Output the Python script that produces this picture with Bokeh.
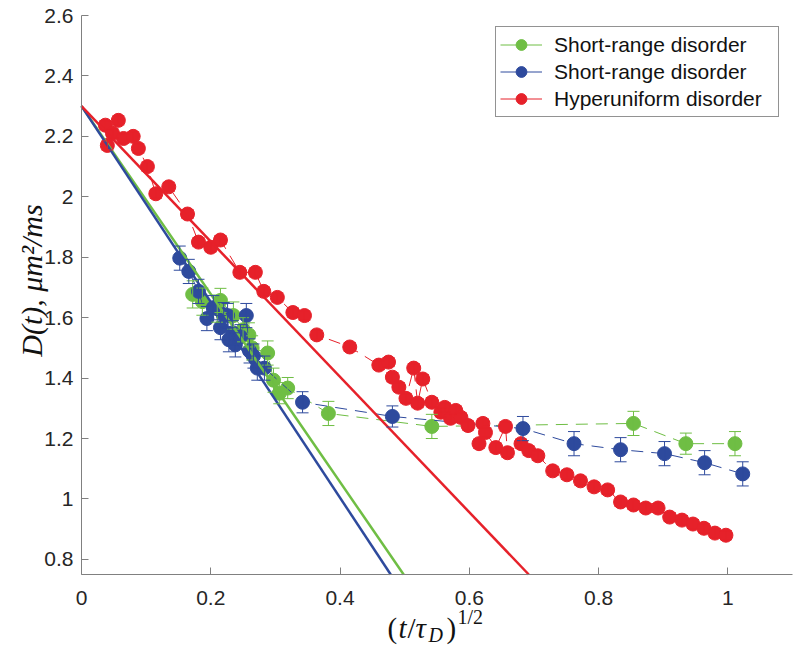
import math
from bokeh.plotting import figure
from bokeh.models import (Whisker, TeeHead, ColumnDataSource, Legend, LegendItem,
                          FixedTicker, CustomJSTickFormatter, Label, Range1d)
from bokeh.embed import file_html
from bokeh.resources import INLINE

# ---------------- data ----------------
green_x = [0.172, 0.187, 0.210, 0.215, 0.235, 0.250, 0.259, 0.264, 0.288, 0.297,
           0.306, 0.319, 0.382, 0.542, 0.854, 0.935, 1.011]
green_y = [1.677, 1.653, 1.630, 1.657, 1.607, 1.560, 1.543, 1.500, 1.483, 1.393,
           1.350, 1.367, 1.283, 1.240, 1.250, 1.183, 1.183]
green_err = [0.045, 0.045, 0.045, 0.040, 0.045, 0.040, 0.040, 0.040, 0.040, 0.040,
             0.035, 0.035, 0.040, 0.040, 0.040, 0.035, 0.040]

blue_x = [0.152, 0.166, 0.181, 0.194, 0.204, 0.215, 0.220, 0.226, 0.228, 0.234,
          0.238, 0.246, 0.255, 0.260, 0.266, 0.272, 0.283, 0.342, 0.481, 0.683,
          0.762, 0.834, 0.902, 0.964, 1.023]
blue_y = [1.797, 1.753, 1.687, 1.597, 1.633, 1.567, 1.610, 1.607, 1.527, 1.550,
          1.510, 1.537, 1.607, 1.490, 1.473, 1.433, 1.433, 1.320, 1.273, 1.233,
          1.183, 1.163, 1.150, 1.120, 1.083]
blue_err = [0.040, 0.040, 0.040, 0.040, 0.040, 0.040, 0.040, 0.040, 0.040, 0.040,
            0.040, 0.040, 0.040, 0.040, 0.040, 0.040, 0.040, 0.035, 0.035, 0.040,
            0.040, 0.040, 0.040, 0.040, 0.040]

red_x = [0.037, 0.040, 0.048, 0.057, 0.065, 0.080, 0.088, 0.102, 0.115, 0.135,
         0.164, 0.181, 0.200, 0.215, 0.245, 0.269, 0.282, 0.303, 0.327, 0.345,
         0.364, 0.415, 0.460, 0.475, 0.481, 0.491, 0.502, 0.514, 0.520, 0.528,
         0.542, 0.556, 0.562, 0.571, 0.579, 0.587, 0.598, 0.615, 0.621, 0.625,
         0.641, 0.656, 0.659, 0.680, 0.692, 0.706, 0.729, 0.751, 0.772, 0.793,
         0.814, 0.834, 0.854, 0.873, 0.892, 0.910, 0.929, 0.946, 0.963, 0.980,
         0.997]
red_y = [2.237, 2.170, 2.210, 2.253, 2.193, 2.200, 2.160, 2.100, 2.010, 2.033,
         1.943, 1.850, 1.833, 1.857, 1.750, 1.750, 1.687, 1.667, 1.617, 1.607,
         1.543, 1.503, 1.443, 1.453, 1.403, 1.370, 1.333, 1.433, 1.317, 1.397,
         1.320, 1.287, 1.303, 1.267, 1.293, 1.270, 1.243, 1.183, 1.250, 1.220,
         1.170, 1.240, 1.153, 1.183, 1.160, 1.143, 1.093, 1.080, 1.060, 1.040,
         1.030, 0.990, 0.980, 0.970, 0.970, 0.940, 0.930, 0.917, 0.903, 0.887,
         0.880]
red_err = [0.015] * len(red_x)

# linear fits  D = D0 - slope * x
fit_intercept = [2.30, 2.30, 2.30]          # green, blue, red
fit_slope = [3.11, 3.24, 2.24]

labels = ["Short-range disorder", "Short-range disorder", "Hyperuniform disorder"]
colors = ["#6fbe44", "#2e4a9d", "#e6212a"]

x_ticks = [0, 0.2, 0.4, 0.6, 0.8, 1.0]
y_ticks = [0.8, 1.0, 1.2, 1.4, 1.6, 1.8, 2.0, 2.2, 2.4, 2.6]
x_lim = (0, 1.1)
y_lim = (0.75, 2.6)

# ---------------- geometry (frame covers the whole canvas, axes are pinned) ----------------
W, H = 800, 646
LEFT, RIGHT, TOP, BOTTOM = 81, 792, 15, 574      # pixel box of the axes
PX_X = (RIGHT - LEFT) / (x_lim[1] - x_lim[0])
PX_Y = (BOTTOM - TOP) / (y_lim[1] - y_lim[0])

def dx(px):
    return x_lim[0] + (px - LEFT) / PX_X

def dy(py):
    return y_lim[1] - (py - TOP) / PX_Y

p = figure(width=W, height=H, x_range=Range1d(dx(0), dx(W)), y_range=Range1d(dy(H), dy(0)),
           output_backend="svg", toolbar_location=None,
           min_border_left=0, min_border_right=0, min_border_top=0, min_border_bottom=0)
p.outline_line_color = None
p.grid.visible = False

fmt = CustomJSTickFormatter(code="return String(Math.round(tick*10)/10);")
for ax, ticks in ((p.xaxis[0], x_ticks), (p.yaxis[0], y_ticks)):
    ax.ticker = FixedTicker(ticks=ticks)
    ax.formatter = fmt
    ax.axis_line_color = "#808080"
    ax.major_tick_line_color = "#808080"
    ax.major_tick_in = 7
    ax.major_tick_out = 0
    ax.minor_tick_in = 0
    ax.minor_tick_out = 0
    ax.major_label_text_font = "Liberation Sans"
    ax.major_label_text_font_size = "21px"
    ax.major_label_text_color = "#262626"
p.xaxis[0].fixed_location = y_lim[0]
p.xaxis[0].bounds = x_lim
p.xaxis[0].major_label_standoff = 16
p.yaxis[0].fixed_location = x_lim[0]
p.yaxis[0].bounds = y_lim
p.yaxis[0].major_label_standoff = 8

series = [(green_x, green_y, green_err), (blue_x, blue_y, blue_err), (red_x, red_y, red_err)]
for (xs, ys, es), c in zip(series, colors):
    src = ColumnDataSource(dict(x=xs, y=ys,
                                lo=[a - b for a, b in zip(ys, es)],
                                hi=[a + b for a, b in zip(ys, es)]))
    p.line("x", "y", source=src, line_color=c, line_width=1, line_dash="12 8")
    w = Whisker(base="x", upper="hi", lower="lo", source=src, level="glyph",
                line_color=c, line_width=1,
                upper_head=TeeHead(size=12, line_color=c, line_width=1),
                lower_head=TeeHead(size=12, line_color=c, line_width=1))
    p.add_layout(w)
    p.scatter("x", "y", source=src, marker="circle", size=14, fill_color=c, line_color=c)

# fit lines, ending where they reach the bottom of the axes
for b, s, c in zip(fit_intercept, fit_slope, colors):
    x_end = (b - y_lim[0]) / s
    p.line([0, x_end], [b, y_lim[0]], line_color=c, line_width=2.5)

# legend (proxy renderers placed outside the visible ranges)
items = []
for lab, c in zip(labels, colors):
    lr = p.line([-2.0, -1.9], [0.0, 0.0], line_color=c, line_width=1)
    sr = p.scatter([-2.0], [0.0], marker="circle", size=14, fill_color=c, line_color=c)
    items.append(LegendItem(label=lab, renderers=[lr, sr]))
leg = Legend(items=items, location=(495, H - 28 - 89),
             border_line_color="#262626", border_line_width=1,
             label_text_font="Liberation Sans", label_text_font_size="21px",
             label_text_color="#111111",
             glyph_width=42, glyph_height=27, label_height=20, label_width=220,
             spacing=0, padding=4, label_standoff=12, background_fill_alpha=1.0)
p.add_layout(leg)

# y axis label
p.add_layout(Label(x=dx(31), y=dy(280), text="D(t), μm²/ms", angle=math.pi / 2,
                   text_font="Liberation Serif", text_font_style="italic",
                   text_font_size="30px", text_color="#111111",
                   text_align="center", text_baseline="alphabetic"))

# x axis label (t/τ_D)^{1/2}, composed from pieces
pieces = [("(", 387, 627, "29px", "normal"),
          ("t", 398, 627, "29px", "italic"),
          ("/", 407, 627, "29px", "normal"),
          ("τ", 415, 627, "29px", "italic"),
          ("D", 428, 634, "20px", "italic"),
          (")", 446, 627, "29px", "normal"),
          ("1/2", 457, 616, "20px", "normal")]
for t, px, py, fs, st in pieces:
    p.add_layout(Label(x=dx(px), y=dy(py), text=t, text_font="Liberation Serif",
                       text_font_size=fs, text_font_style=st, text_color="#111111",
                       text_align="left", text_baseline="alphabetic"))

open("out.html", "w").write(file_html(p, INLINE))
